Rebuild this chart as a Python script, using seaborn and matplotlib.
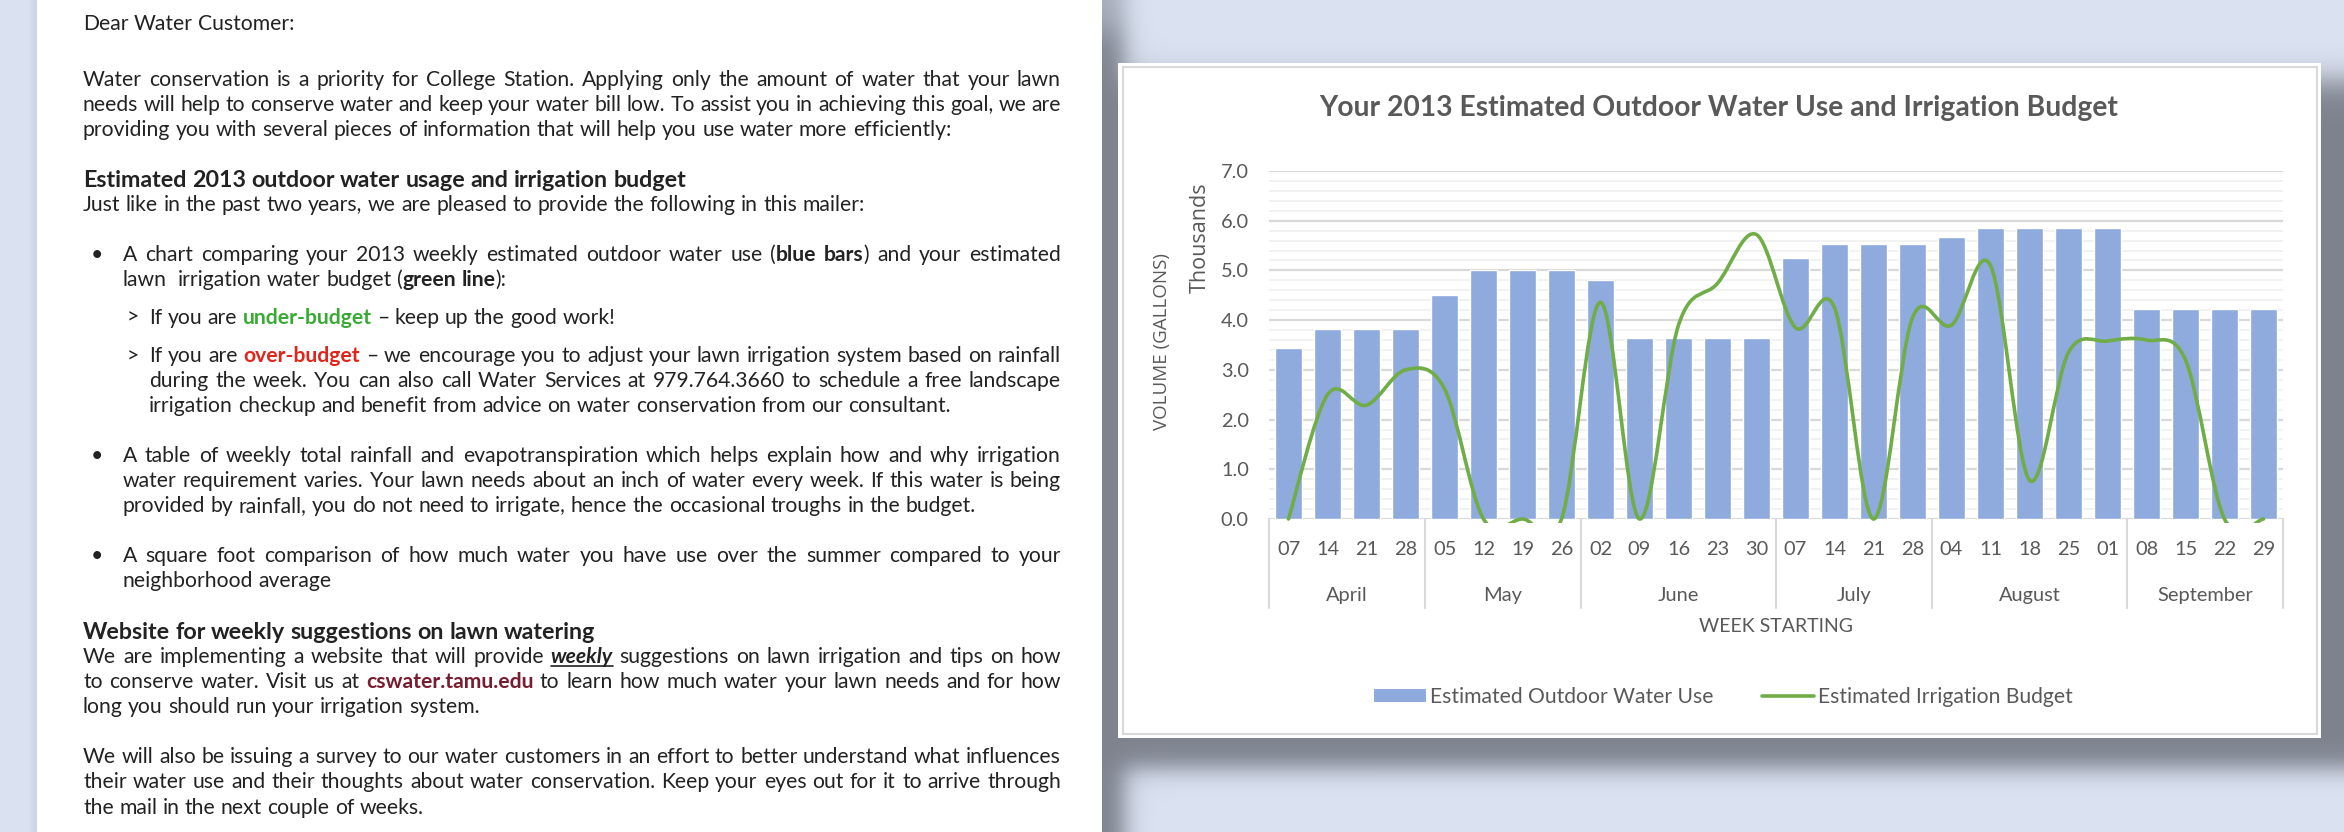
import re
import numpy as np
import pandas as pd
import seaborn as sns
import matplotlib
matplotlib.use("Agg")
import matplotlib.pyplot as plt
from matplotlib.patches import Rectangle, PathPatch, Patch
from matplotlib.path import Path
from matplotlib.lines import Line2D
from matplotlib.ticker import MultipleLocator

W, H = 2344, 832

# ---- chart data (thousands of gallons per week) ----
month_names = ["April", "May", "June", "July", "August", "September"]
weeks_per_month = [4, 4, 5, 4, 5, 4]
week_days = ["07", "14", "21", "28",
             "05", "12", "19", "26",
             "02", "09", "16", "23", "30",
             "07", "14", "21", "28",
             "04", "11", "18", "25", "01",
             "08", "15", "22", "29"]
outdoor_use = [3.43, 3.82, 3.82, 3.82,
               4.50, 5.00, 5.00, 5.00,
               4.80, 3.64, 3.64, 3.64, 3.64,
               5.26, 5.53, 5.53, 5.53,
               5.67, 5.86, 5.86, 5.86, 5.86,
               4.23, 4.23, 4.23, 4.23]
irrigation_budget = [0.00, 2.50, 2.29, 3.00,
                     2.62, 0.00, 0.00, 0.00,
                     4.36, 0.00, 3.90, 4.74, 5.72,
                     3.85, 4.25, 0.00, 4.05,
                     3.90, 5.10, 0.78, 3.35, 3.58,
                     3.60, 3.20, 0.00, 0.00]

BAR_BLUE = "#8FAADC"
GREEN = "#70AD47"
AXIS_TXT = "#595959"
GRID = "#D9D9D9"
INK = "#222222"

sns.set_style("white")
plt.rcParams["font.family"] = ["Lato", "DejaVu Sans"]

fig = plt.figure(figsize=(W / 100, H / 100), dpi=100)


def fx(x):
    return x / W


def fy(y):
    return 1 - y / H


# ---- backdrop: pale blue desk, white letter page, soft drop shadows ----
def ramp(d, w):
    return 0.5 * (1 + np.tanh(d / w))


xx = np.arange(W)[None, :].astype(float)
yy = np.arange(H)[:, None].astype(float)
base = np.array([219, 227, 243], float)
dark = np.array([125, 130, 141], float)
a_chart = ramp(xx - 1095, 14) * ramp(2380 - xx, 14) * ramp(yy - 80, 18) * ramp(768 - yy, 14)
a_page = ramp(1124 - xx, 14) * (xx >= 1102) * (0.55 + 0.45 * ramp(yy - 30, 20))
a_left = 0.15 * ramp(xx - 31, 3) * (xx < 37)
alpha = 1 - (1 - a_chart) * (1 - a_page) * (1 - a_left)
img = base[None, None, :] * (1 - alpha[..., None]) + dark[None, None, :] * alpha[..., None]
img[:, 37:1102, :] = 255
fig.figimage(np.clip(img, 0, 255).astype(np.uint8), xo=0, yo=0, origin="upper", zorder=-10)

# chart card
fig.add_artist(Rectangle((fx(1118), fy(738)), (2321 - 1118) / W, (738 - 63) / H,
                         transform=fig.transFigure, facecolor="white",
                         edgecolor="none", zorder=-5))
fig.add_artist(Rectangle((fx(1122.5), fy(734)), (2317 - 1122.5) / W, (734 - 66.5) / H,
                         transform=fig.transFigure, fill=False,
                         edgecolor=GRID, lw=1.5, zorder=-4))

# ---- chart ----
ax_l, ax_r, ax_t, ax_b = 1269, 2283, 171, 519
ax = fig.add_axes([fx(ax_l), fy(ax_b), (ax_r - ax_l) / W, (ax_b - ax_t) / H])
ax.set_facecolor("none")

week_month = [m for m, k in zip(month_names, weeks_per_month) for _ in range(k)]
df = pd.DataFrame({"week": [f"{m} {d}" for m, d in zip(week_month, week_days)],
                   "use": outdoor_use})
sns.barplot(data=df, x="week", y="use", order=list(df["week"]), color=BAR_BLUE,
            width=0.67, saturation=1, errorbar=None, ax=ax, zorder=2)

ax.set_xlim(-0.5, len(week_days) - 0.5)
ax.set_ylim(0, 7)
ax.set_yticks(np.arange(0, 8))
ax.set_yticklabels([f"{v:.1f}" for v in range(8)])
ax.yaxis.set_minor_locator(MultipleLocator(0.2))
ax.set_axisbelow(True)
ax.yaxis.grid(True, which="major", color=GRID, lw=1.6)
ax.yaxis.grid(True, which="minor", color="#F0F0F0", lw=1.2)
ax.xaxis.grid(False)
ax.tick_params(axis="y", which="both", length=0, pad=14.5, labelsize=14.4,
               labelcolor=AXIS_TXT)
ax.tick_params(axis="x", length=0, labelbottom=False)
ax.set_xlabel("")
ax.set_ylabel("")
for s in ax.spines.values():
    s.set_visible(False)
ax.axhline(0, color=GRID, lw=1.8, zorder=1)

# smoothed budget line (cardinal Bezier through each weekly value)
pts = np.column_stack([np.arange(len(irrigation_budget)), irrigation_budget]).astype(float)
n = len(pts)
verts, codes = [pts[0]], [Path.MOVETO]
for i in range(n - 1):
    p0, p1, p2, p3 = pts[max(i - 1, 0)], pts[i], pts[i + 1], pts[min(i + 2, n - 1)]
    verts += [p1 + (p2 - p0) / 6, p2 - (p3 - p1) / 6, p2]
    codes += [Path.CURVE4] * 3
line = PathPatch(Path(verts, codes), fill=False, edgecolor=GREEN, lw=2.6,
                 capstyle="round", joinstyle="round", zorder=3)
ax.add_patch(line)
line.set_clip_path(Rectangle((0, -0.012), 1, 1.012, transform=ax.transAxes))

# two-level category axis
xform = ax.get_xaxis_transform()
span = ax_b - ax_t
for i, d in enumerate(week_days):
    ax.text(i, -(555 - ax_b) / span, d, transform=xform, ha="center", va="baseline",
            fontsize=14.4, color=AXIS_TXT)
edges = np.concatenate([[0], np.cumsum(weeks_per_month)]) - 0.5
for lo, hi, m in zip(edges[:-1], edges[1:], month_names):
    ax.text((lo + hi) / 2, -(601 - ax_b) / span, m, transform=xform, ha="center",
            va="baseline", fontsize=14.4, color=AXIS_TXT)
for e in edges:
    ax.plot([e, e], [0, -(608 - ax_b) / span], transform=xform, color=GRID,
            lw=1.5, clip_on=False)
ax.text(0.5, -(627 - ax_b) / span, "WEEK STARTING", transform=ax.transAxes,
        ha="center", va="center", fontsize=14, color=AXIS_TXT)

fig.text(fx(1162), fy(342), "VOLUME (GALLONS)", rotation=90, ha="center", va="center",
         family=["Open Sans", "DejaVu Sans"], fontsize=13.5, color=AXIS_TXT)
fig.text(fx(1200), fy(238), "Thousands", rotation=90, ha="center", va="center",
         family=["Open Sans", "DejaVu Sans"], fontsize=15.5, color=AXIS_TXT)

fig.text(fx(1719), fy(108), "Your 2013 Estimated Outdoor Water Use and Irrigation Budget",
         ha="center", va="center", fontsize=20.3, fontweight="bold", color=AXIS_TXT)

fig.legend(handles=[Patch(facecolor=BAR_BLUE, edgecolor="none"),
                    Line2D([0], [0], color=GREEN, lw=2.6)],
           labels=["Estimated Outdoor Water Use", "Estimated Irrigation Budget"],
           loc="center", bbox_to_anchor=(fx(1723), fy(697)), ncol=2, frameon=False,
           fontsize=15.2, handlelength=2.5, handleheight=0.62, handletextpad=0.15,
           columnspacing=2.3, labelcolor=AXIS_TXT)

# ---- letter text ----
BODY = 15.2
STYLES = {
    "n": dict(color=INK),
    "b": dict(color=INK, fontweight="bold"),
    "h": dict(color=INK, fontweight="bold", fontsize=BODY * 1.10),
    "g": dict(color="#3AAA35", fontweight="bold"),
    "r": dict(color="#E1251B", fontweight="bold"),
    "m": dict(color="#7A1C30", fontweight="bold"),
    "u": dict(color=INK, fontweight="bold", fontstyle="italic"),
}
RIGHT = 1061

# (x start, baseline y, text, justified)
letter = [
    (83, 30, "Dear Water Customer:", False),
    (83, 86, "Water conservation is a priority for College Station. Applying only the amount of water that your lawn", True),
    (83, 111, "needs will help to conserve water and keep your water bill low. To assist you in achieving this goal, we are", True),
    (83, 136, "providing you with several pieces of information that will help you use water more efficiently:", False),
    (83, 187, "{h:Estimated 2013 outdoor water usage and irrigation budget}", False),
    (83, 211, "Just like in the past two years, we are pleased to provide the following in this mailer:", False),
    (123, 261, "A chart comparing your 2013 weekly estimated outdoor water use ({b:blue bars}) and your estimated", True),
    (123, 286, "lawn  irrigation water budget ({b:green line}):", False),
    (149, 324, "If you are {g:under-budget} – keep up the good work!", False),
    (149, 362, "If you are {r:over-budget} – we encourage you to adjust your lawn irrigation system based on rainfall", True),
    (149, 387, "during the week. You can also call Water Services at 979.764.3660 to schedule a free landscape", True),
    (149, 412, "irrigation checkup and benefit from advice on water conservation from our consultant.", False),
    (123, 462, "A table of weekly total rainfall and evapotranspiration which helps explain how and why irrigation", True),
    (123, 487, "water requirement varies. Your lawn needs about an inch of water every week. If this water is being", True),
    (123, 512, "provided by rainfall, you do not need to irrigate, hence the occasional troughs in the budget.", False),
    (123, 562, "A square foot comparison of how much water you have use over the summer compared to your", True),
    (123, 587, "neighborhood average", False),
    (83, 639, "{h:Website for weekly suggestions on lawn watering}", False),
    (83, 663, "We are implementing a website that will provide {u:weekly} suggestions on lawn irrigation and tips on how", True),
    (83, 688, "to conserve water. Visit us at {m:cswater.tamu.edu} to learn how much water your lawn needs and for how", True),
    (83, 713, "long you should run your irrigation system.", False),
    (83, 763, "We will also be issuing a survey to our water customers in an effort to better understand what influences", True),
    (83, 788, "their water use and their thoughts about water conservation. Keep your eyes out for it to arrive through", True),
    (83, 814, "the mail in the next couple of weeks.", False),
]
bullets = [(91, 261, "•"), (91, 462, "•"), (91, 562, "•"), (127, 324, ">"), (127, 362, ">")]

renderer = fig.canvas.get_renderer()


def parse(markup):
    segs, pos = [], 0
    for m in re.finditer(r"\{(\w):([^}]*)\}", markup):
        if m.start() > pos:
            segs.append((markup[pos:m.start()], "n"))
        segs.append((m.group(2), m.group(1)))
        pos = m.end()
    if pos < len(markup):
        segs.append((markup[pos:], "n"))
    return segs


def split_words(segs):
    words, gaps, pending = [[]], [0], 0
    for text, sty in segs:
        for k, part in enumerate(text.split(" ")):
            if k > 0:
                pending += 1
            if part:
                if pending and words[-1]:
                    words.append([])
                    gaps.append(pending)
                pending = 0
                words[-1].append((part, sty))
    return words, gaps


def make_text(s, sty):
    kw = dict(STYLES[sty])
    size = kw.pop("fontsize", BODY)
    t = fig.text(0, 0, s, ha="left", va="baseline", fontsize=size, **kw)
    return t, t.get_window_extent(renderer).width


_probe1, w1 = make_text("n n", "n")
_probe2, w2 = make_text("nn", "n")
SPACE = w1 - w2
_probe1.remove()
_probe2.remove()

for x0, yb, markup, justify in letter:
    words, gaps = split_words(parse(markup))
    placed = [[(make_text(s, sty), sty) for s, sty in wd] for wd in words]
    total = sum(w for wd in placed for (t, w), _ in wd)
    units = sum(gaps[1:])
    gap = (RIGHT - x0 - total) / units if (justify and units) else SPACE
    x = x0
    for i, wd in enumerate(placed):
        if i > 0:
            x += gap * gaps[i]
        for (t, w), sty in wd:
            t.set_position((fx(x), fy(yb)))
            if sty == "u":
                fig.add_artist(Line2D([fx(x), fx(x + w)], [fy(yb + 2.5)] * 2,
                                      transform=fig.transFigure, color=INK, lw=1.2))
            x += w

for bx, yb, mark in bullets:
    fig.text(fx(bx), fy(yb), mark, ha="left", va="baseline", fontsize=BODY, color=INK)

fig.savefig("out.png", dpi=100)
